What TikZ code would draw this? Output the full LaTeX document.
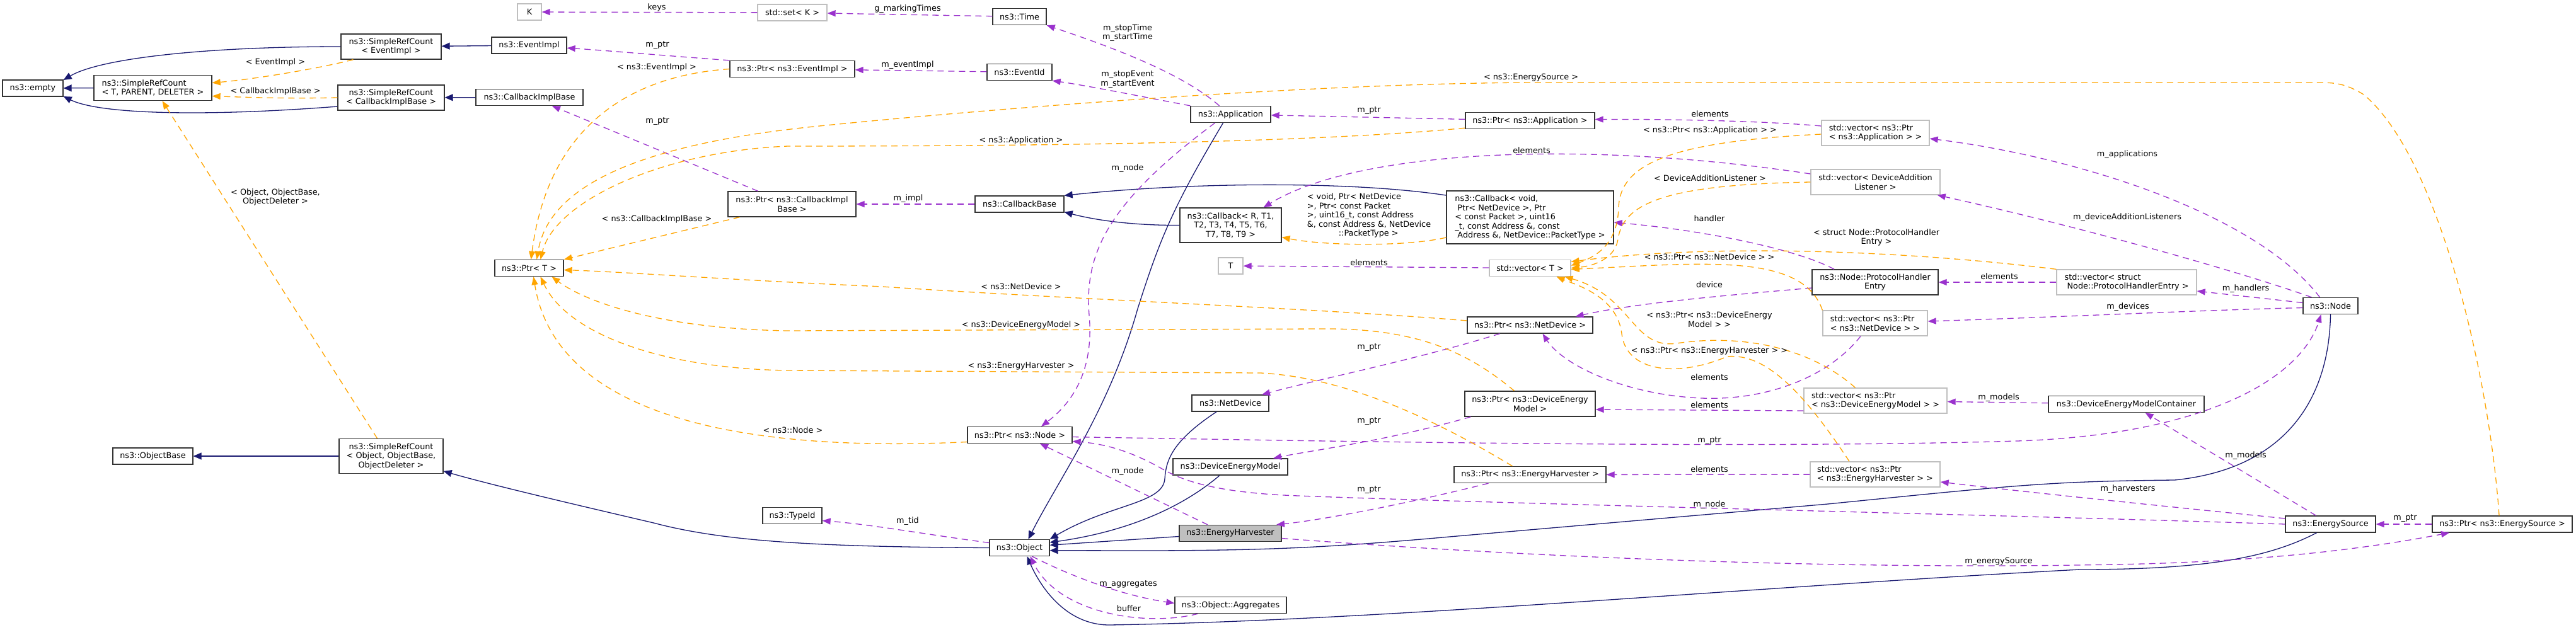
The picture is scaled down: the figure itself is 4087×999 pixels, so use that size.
\documentclass[tikz,border=0pt]{standalone}
\usepackage{fontspec}
\setmainfont{DejaVu Sans}
\usetikzlibrary{arrows.meta}
\definecolor{inhblue}{HTML}{191970}
\definecolor{usepurple}{HTML}{9A32CD}
\definecolor{tplorange}{HTML}{FFA500}
\definecolor{undoc}{HTML}{BFBFBF}
\newcommand{\dxfont}{\fontsize{12.8}{14.5}\selectfont}

\begin{document}
\begin{tikzpicture}[x=1pt, y=-1pt,
  cls/.style={draw=black!80, line width=1.3pt, fill=white, font=\dxfont, inner xsep=3pt, inner ysep=1pt, minimum height=26pt, align=center},
  ext/.style={cls, draw=undoc},
  cur/.style={cls, fill=undoc},
  two/.style={minimum height=40pt},
  three/.style={minimum height=55pt},
  lbl/.style={font=\dxfont, text=black, inner sep=0pt, align=center},
  inh/.style={draw=inhblue, line width=1.3pt, -{Triangle[length=13pt,width=11pt]}},
  use/.style={draw=usepurple, line width=1.3pt, dash pattern=on 10pt off 7pt, -{Triangle[length=13pt,width=10pt]}},
  tpl/.style={draw=tplorange, line width=1.3pt, dash pattern=on 10pt off 7pt, -{Triangle[length=13pt,width=10pt]}}]
  \useasboundingbox (0,0) rectangle (4087,999);
  \fill[white] (0,0) rectangle (4087,999);

  \node[cls, minimum width=96pt] (empty) at (52,140) {ns3::empty};
  \node[cls, two, align=left, minimum width=187pt] (rcTPD) at (242.5,139.5) {ns3::SimpleRefCount\\< T, PARENT, DELETER >};
  \node[cls, two, minimum width=159pt] (rcEvent) at (620.5,74) {ns3::SimpleRefCount\\< EventImpl >};
  \node[cls, two, minimum width=169pt] (rcCb) at (620.5,155) {ns3::SimpleRefCount\\< CallbackImplBase >};
  \node[cls, minimum width=127pt] (objBase) at (242.5,724) {ns3::ObjectBase};
  \node[cls, three, minimum width=165pt] (rcObj) at (620.5,724) {ns3::SimpleRefCount\\< Object, ObjectBase,\\ObjectDeleter >};
  \node[ext, minimum width=38pt] (K) at (840,19) {K};
  \node[ext, minimum width=110pt] (setK) at (1257,20) {std::set< K >};
  \node[cls, minimum width=119pt] (eventImpl) at (839.5,72) {ns3::EventImpl};
  \node[cls, minimum width=170pt] (cbImpl) at (840,154.5) {ns3::CallbackImplBase};
  \node[cls, minimum width=198pt] (ptrEvent) at (1257,109.5) {ns3::Ptr< ns3::EventImpl >};
  \node[cls, two, minimum width=203pt] (ptrCb) at (1256.5,324) {ns3::Ptr< ns3::CallbackImpl\\Base >};
  \node[cls, minimum width=109pt] (ptrT) at (839.5,425.5) {ns3::Ptr< T >};
  \node[cls, minimum width=94pt] (typeId) at (1257,818.5) {ns3::TypeId};
  \node[cls, minimum width=85pt] (time) at (1617.5,26.5) {ns3::Time};
  \node[cls, minimum width=103pt] (eventId) at (1617.5,114.5) {ns3::EventId};
  \node[cls, minimum width=127pt] (app) at (1952.5,181.5) {ns3::Application};
  \node[cls, minimum width=141pt] (cbBase) at (1617.5,324) {ns3::CallbackBase};
  \node[cls, three, minimum width=161pt] (cbR) at (1952.5,357.5) {ns3::Callback< R, T1,\\T2, T3, T4, T5, T6,\\T7, T8, T9 >};
  \node[ext, minimum width=39pt] (T) at (1952.5,422) {T};
  \node[cls, minimum width=122pt] (netDev) at (1952,640) {ns3::NetDevice};
  \node[cls, minimum width=166pt] (ptrNode) at (1618,690.5) {ns3::Ptr< ns3::Node >};
  \node[cls, minimum width=182pt] (dem) at (1952,741) {ns3::DeviceEnergyModel};
  \node[cur, minimum width=162pt] (harv) at (1952,846.5) {ns3::EnergyHarvester};
  \node[cls, minimum width=95pt] (object) at (1617.5,869.5) {ns3::Object};
  \node[cls, minimum width=177pt] (aggr) at (1952.5,960.5) {ns3::Object::Aggregates};
  \node[cls, minimum width=205pt] (ptrApp) at (2427.5,191.5) {ns3::Ptr< ns3::Application >};
  \node[cls, minimum height=84pt, align=left, minimum width=265pt] (cbVoid) at (2427.5,345) {ns3::Callback< void,\\\hspace*{4pt}Ptr< NetDevice >, Ptr\\< const Packet >, uint16\\\_t, const Address \&, const\\\hspace*{4pt}Address \&, NetDevice::PacketType >};
  \node[ext, minimum width=129pt] (vecT) at (2427.5,425.5) {std::vector< T >};
  \node[cls, minimum width=199pt] (ptrNetDev) at (2427.5,516) {ns3::Ptr< ns3::NetDevice >};
  \node[cls, two, minimum width=207pt] (ptrDem) at (2427.5,641) {ns3::Ptr< ns3::DeviceEnergy\\Model >};
  \node[cls, minimum width=241pt] (ptrHarv) at (2427.5,753.5) {ns3::Ptr< ns3::EnergyHarvester >};
  \node[ext, two, align=left, minimum width=171pt] (vecApp) at (2975.5,211) {std::vector< ns3::Ptr\\< ns3::Application > >};
  \node[ext, two, minimum width=205pt] (vecDal) at (2975.5,289) {std::vector< DeviceAddition\\Listener >};
  \node[cls, two, minimum width=200pt] (phe) at (2975,448) {ns3::Node::ProtocolHandler\\Entry};
  \node[ext, two, align=left, minimum width=222pt] (vecPhe) at (3374,448) {std::vector< struct\\\hspace*{4pt}Node::ProtocolHandlerEntry >};
  \node[ext, two, align=left, minimum width=166pt] (vecNetDev) at (2975,513) {std::vector< ns3::Ptr\\< ns3::NetDevice > >};
  \node[ext, two, align=left, minimum width=227pt] (vecDem) at (2975.5,636) {std::vector< ns3::Ptr\\< ns3::DeviceEnergyModel > >};
  \node[cls, minimum width=247pt] (demCont) at (3373.5,641.5) {ns3::DeviceEnergyModelContainer};
  \node[ext, two, align=left, minimum width=206pt] (vecHarv) at (2975,753) {std::vector< ns3::Ptr\\< ns3::EnergyHarvester > >};
  \node[cls, minimum width=87pt] (nsnode) at (3697.5,485.5) {ns3::Node};
  \node[cls, minimum width=143pt] (source) at (3697.5,832) {ns3::EnergySource};
  \node[cls, minimum width=222pt] (ptrSource) at (3970,832) {ns3::Ptr< ns3::EnergySource >};

  \draw[inh] (rcTPD) -- (empty);
  \draw[inh] (rcEvent.west) .. controls (330,74) and (160,92) .. (empty.15);
  \draw[inh] ([yshift=-14pt]rcCb.west) .. controls (330,185) and (160,182) .. (empty.-15);
  \draw[inh] (eventImpl) -- (rcEvent);
  \draw[inh] (cbImpl) -- (rcCb);
  \draw[inh] (rcObj) -- (objBase);
  \draw[inh] (object.west) .. controls (1300,868) and (1150,860) .. (1037,830) .. controls (930,805) and (780,770) .. (rcObj.-16);
  \draw[inh] ([xshift=-12pt]app.south) .. controls (1860,330) and (1840,380) .. (1805,490) .. controls (1760,650) and (1680,760) .. ([xshift=14pt]object.north);
  \draw[inh] ([yshift=35pt]cbVoid.west) .. controls (2150,288) and (1900,288) .. (cbBase.north east);
  \draw[inh] (cbR.west) .. controls (1800,358) and (1740,350) .. (cbBase.-10);
  \draw[inh] ([xshift=-22pt]netDev.south) .. controls (1860,700) and (1850,730) .. (1848,760) .. controls (1845,800) and (1760,800) .. (object.north east);
  \draw[inh] ([xshift=-17pt]dem.south) .. controls (1870,810) and (1780,845) .. (object.10);
  \draw[inh] ([yshift=-5pt]harv.west) -- (object.5);
  \draw[inh] (nsnode.south) .. controls (3695,640) and (3620,745) .. (3450,762) .. controls (3250,764) and (3200,770) .. (2900,800) -- (2300,852) .. controls (2100,870) and (2000,874) .. (1800,874) -- (object.-5);
  \draw[inh] ([xshift=-22pt]source.south) .. controls (3600,885) and (3500,904) .. (3300,904) .. controls (2800,930) and (2200,985) .. (1760,992) .. controls (1690,992) and (1650,930) .. ([xshift=12pt]object.south);

  \draw[use] (setK) -- (K) node[lbl] at (1042,12) {keys};
  \draw[use] (time) -- (setK) node[lbl] at (1440,14) {g\_markingTimes};
  \draw[use] (ptrEvent.north west) .. controls (1050,88) and (960,80) .. (eventImpl.-4) node[lbl] at (1043,72) {m\_ptr};
  \draw[use] (eventId) -- (ptrEvent) node[lbl] at (1440,103) {m\_eventImpl};
  \draw[use] ([xshift=-18pt]app.north) .. controls (1880,120) and (1780,80) .. (time.south east) node[lbl] at (1789,52) {m\_stopTime\\m\_startTime};
  \draw[use] (app.north west) .. controls (1820,155) and (1720,135) .. (eventId.south east) node[lbl] at (1789,126) {m\_stopEvent\\m\_startEvent};
  \draw[use] ([xshift=-54pt]ptrCb.north) -- ([xshift=36pt]cbImpl.south) node[lbl] at (1043,193) {m\_ptr};
  \draw[use] (cbBase) -- (ptrCb) node[lbl] at (1441,315) {m\_impl};
  \draw[use] (ptrApp) -- (app) node[lbl] at (2172,176) {m\_ptr};
  \draw[use] ([yshift=11pt]vecApp.west) .. controls (2800,192) and (2650,189) .. ([yshift=2pt]ptrApp.east) node[lbl] at (2713,181) {elements};
  \draw[use] ([xshift=-17pt]nsnode.north) .. controls (3580,340) and (3300,250) .. ([yshift=-9pt]vecApp.east) node[lbl] at (3375,245) {m\_applications};
  \draw[use] ([xshift=-30pt]nsnode.north) .. controls (3550,430) and (3300,360) .. ([xshift=-5pt]vecDal.south east) node[lbl] at (3375,345) {m\_deviceAdditionListeners};
  \draw[use] ([yshift=13pt]vecDal.west) .. controls (2500,220) and (2150,240) .. ([xshift=52pt]cbR.north) node[lbl] at (2430,239) {elements};
  \draw[use] ([xshift=-65pt]phe.north) .. controls (2850,395) and (2700,365) .. ([yshift=-8pt]cbVoid.east) node[lbl] at (2712,347) {handler};
  \draw[use] (vecPhe) -- (phe) node[lbl] at (3172,439) {elements};
  \draw[use] ([yshift=5pt]nsnode.west) -- ([yshift=-14pt]vecPhe.east) node[lbl] at (3563,458) {m\_handlers};
  \draw[use] (vecT) -- (T) node[lbl] at (2172,417) {elements};
  \draw[use] ([yshift=-9pt]phe.west) .. controls (2750,468) and (2600,480) .. ([xshift=72pt]ptrNetDev.north) node[lbl] at (2712,452) {device};
  \draw[use] ([yshift=-3pt]nsnode.west) .. controls (3500,492) and (3300,502) .. ([yshift=3pt]vecNetDev.east) node[lbl] at (3376,487) {m\_devices};
  \draw[use] ([xshift=-23pt]vecNetDev.south) .. controls (2900,600) and (2800,636) .. (2700,632) .. controls (2580,627) and (2480,580) .. ([xshift=20pt]ptrNetDev.south) node[lbl] at (2712,599) {elements};
  \draw[use] ([yshift=-16pt]vecDem.west) -- ([yshift=-9pt]ptrDem.east) node[lbl] at (2712,643) {elements};
  \draw[use] (demCont) -- (vecDem) node[lbl] at (3171,631) {m\_models};
  \draw[use] ([xshift=-48pt]ptrNetDev.south) .. controls (2250,570) and (2100,600) .. ([xshift=50pt]netDev.north) node[lbl] at (2172,552) {m\_ptr};
  \draw[use] ([xshift=10pt]ptrDem.south west) .. controls (2200,700) and (2080,715) .. ([xshift=68pt]dem.north) node[lbl] at (2172,669) {m\_ptr};
  \draw[use] ([xshift=-66pt]ptrHarv.south) .. controls (2230,800) and (2100,825) .. ([xshift=73pt]harv.north) node[lbl] at (2172,778) {m\_ptr};
  \draw[use] (vecHarv) -- (ptrHarv) node[lbl] at (2712,745) {elements};
  \draw[use] ([yshift=9pt]source.west) .. controls (3450,805) and (3250,785) .. ([yshift=-12pt]vecHarv.east) node[lbl] at (3376,776) {m\_harvesters};
  \draw[use] ([xshift=-23pt]source.north) -- ([xshift=30pt]demCont.south) node[lbl] at (3563,723) {m\_models};
  \draw[use] (ptrSource) -- (source) node[lbl] at (3816,823) {m\_ptr};
  \draw[use] ([yshift=-8pt]harv.east) .. controls (2500,890) and (3000,905) .. (3400,895) .. controls (3650,888) and (3800,862) .. ([xshift=-84pt]ptrSource.south) node[lbl] at (3171,891) {m\_energySource};
  \draw[use] ([yshift=-3pt]ptrNode.east) .. controls (2200,702) and (2800,712) .. (3200,700) .. controls (3500,690) and (3650,600) .. ([xshift=-15pt]nsnode.south) node[lbl] at (2712,700) {m\_ptr};
  \draw[use] (source.west) .. controls (3200,818) and (2400,800) .. (2060,787) .. controls (1920,782) and (1870,760) .. (1840,742) .. controls (1800,720) and (1760,705) .. ([yshift=-10pt]ptrNode.east) node[lbl] at (2712,801) {m\_node};
  \draw[use] ([xshift=-36pt]harv.north) -- ([xshift=32pt]ptrNode.south) node[lbl] at (1789,748) {m\_node};
  \draw[use] ([xshift=-25pt]app.south) .. controls (1760,320) and (1720,400) .. (1728,500) .. controls (1736,590) and (1700,640) .. ([xshift=34pt]ptrNode.north) node[lbl] at (1789,267) {m\_node};
  \draw[use] ([yshift=8pt]object.west) .. controls (1480,850) and (1380,832) .. ([yshift=-8pt]typeId.east) node[lbl] at (1440,827) {m\_tid};
  \draw[use] ([xshift=20pt]object.south) .. controls (1700,915) and (1780,945) .. ([yshift=3pt]aggr.west) node[lbl] at (1790,928) {m\_aggregates};
  \draw[use] ([xshift=-52pt]aggr.south) .. controls (1820,995) and (1680,975) .. ([xshift=17pt]object.south) node[lbl] at (1791,966) {buffer};

  \draw[tpl] ([xshift=-60pt]rcEvent.south) .. controls (500,110) and (400,126) .. ([yshift=8pt]rcTPD.east) node[lbl] at (437,99) {< EventImpl >};
  \draw[tpl] (rcCb.west) .. controls (450,157) and (380,154) .. ([yshift=-13pt]rcTPD.east) node[lbl] at (437,145) {< CallbackImplBase >};
  \draw[tpl] ([xshift=-22pt]rcObj.north) -- ([xshift=15pt]rcTPD.south) node[lbl] at (437,313) {< Object, ObjectBase,\\ObjectDeleter >};
  \draw[tpl] (ptrEvent.west) .. controls (1000,120) and (870,200) .. ([xshift=3pt]ptrT.north) node[lbl] at (1042,107) {< ns3::EventImpl >};
  \draw[tpl] ([xshift=-83pt]ptrCb.south) -- (ptrT.north east) node[lbl] at (1042,348) {< ns3::CallbackImplBase >};
  \draw[tpl] ([xshift=-5pt]ptrSource.north) .. controls (3950,600) and (3870,250) .. (3750,150) .. controls (3725,135) and (3710,131) .. (3680,131) -- (2450,131) .. controls (2100,131) and (1600,170) .. (1300,200) .. controls (1000,230) and (870,300) .. ([xshift=12pt]ptrT.north) node[lbl] at (2429,123) {< ns3::EnergySource >};
  \draw[tpl] ([yshift=2pt]ptrApp.south west) .. controls (2100,225) and (1700,232) .. (1250,232) .. controls (1050,240) and (880,320) .. ([xshift=18pt]ptrT.north) node[lbl] at (1620,223) {< ns3::Application >};
  \draw[tpl] ([yshift=-32pt]cbVoid.west) .. controls (2230,392) and (2100,390) .. ([yshift=-19pt]cbR.east) node[lbl, align=left] at (2172,342) {< void, Ptr< NetDevice\\>, Ptr< const Packet\\>, uint16\_t, const Address\\\&, const Address \&, NetDevice\\\hspace*{50pt}::PacketType >};
  \draw[tpl] ([yshift=7pt]ptrNetDev.west) .. controls (2100,490) and (1700,475) .. (1400,455) .. controls (1150,444) and (1000,432) .. ([yshift=-3pt]ptrT.east) node[lbl] at (1620,455) {< ns3::NetDevice >};
  \draw[tpl] ([xshift=-25pt]ptrDem.north) .. controls (2330,560) and (2250,521) .. (2100,522) -- (1250,525) .. controls (1050,522) and (930,480) .. ([xshift=36pt]ptrT.south) node[lbl] at (1620,516) {< ns3::DeviceEnergyModel >};
  \draw[tpl] ([xshift=-28pt]ptrHarv.north) .. controls (2300,680) and (2150,600) .. (2000,592) -- (1250,588) .. controls (1050,585) and (900,530) .. ([xshift=18pt]ptrT.south) node[lbl] at (1620,581) {< ns3::EnergyHarvester >};
  \draw[tpl] ([yshift=-11pt]ptrNode.west) .. controls (1150,720) and (880,650) .. ([xshift=7pt]ptrT.south) node[lbl] at (1258,683) {< ns3::Node >};
  \draw[tpl] ([yshift=-2pt]vecApp.west) .. controls (2650,225) and (2570,260) .. (2568,330) .. controls (2566,390) and (2530,408) .. ([yshift=4pt]vecT.east) node[lbl] at (2713,207) {< ns3::Ptr< ns3::Application > >};
  \draw[tpl] (vecDal.west) .. controls (2650,293) and (2575,320) .. (2567,380) .. controls (2562,410) and (2530,422) .. (vecT.east) node[lbl] at (2713,283) {< DeviceAdditionListener >};
  \draw[tpl] (vecPhe.north west) .. controls (3000,395) and (2700,388) .. ([yshift=10pt]vecT.east) node[lbl] at (2977,377) {< struct Node::ProtocolHandler\\Entry >};
  \draw[tpl] (vecNetDev.north west) .. controls (2860,400) and (2700,418) .. ([yshift=-2pt]vecT.east) node[lbl] at (2712,408) {< ns3::Ptr< ns3::NetDevice > >};
  \draw[tpl] ([xshift=-32pt]vecDem.north) .. controls (2870,550) and (2760,530) .. (2660,545) .. controls (2590,555) and (2590,470) .. ([xshift=55pt]vecT.south) node[lbl] at (2712,507) {< ns3::Ptr< ns3::DeviceEnergy\\Model > >};
  \draw[tpl] ([xshift=-41pt]vecHarv.north) .. controls (2860,620) and (2800,560) .. (2740,566) .. controls (2660,600) and (2580,590) .. (2573,530) .. controls (2566,470) and (2500,452) .. ([xshift=42pt]vecT.south) node[lbl] at (2712,557) {< ns3::Ptr< ns3::EnergyHarvester > >};
\end{tikzpicture}
\end{document}
